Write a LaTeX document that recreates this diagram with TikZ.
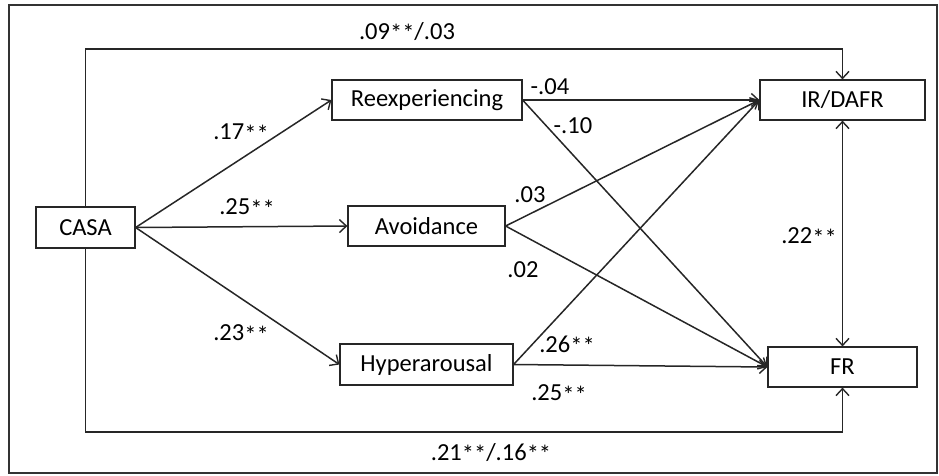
\documentclass[tikz,border=0pt]{standalone}
\usepackage{fontspec}
\setmainfont{Carlito}
\usetikzlibrary{arrows.meta}
\newcommand\sst{\raisebox{-2.5pt}{**}}
\begin{document}
\begin{tikzpicture}[x=1pt,y=-1pt,
  box/.style={draw=black!85,line width=1.2pt,inner sep=0pt,font=\fontsize{24.5}{28}\selectfont},
  lab/.style={inner sep=0pt,font=\fontsize{24.5}{28}\selectfont},
  conn/.style={draw=black!85,line width=1.5pt,-{Straight Barb[length=7pt,width=13pt,line width=1.4pt]}},
  dconn/.style={draw=black!85,line width=1.5pt,{Straight Barb[length=7pt,width=13pt,line width=1.4pt]}-{Straight Barb[length=7pt,width=13pt,line width=1.4pt]}}]
\useasboundingbox (0,0) rectangle (939,475);
\draw[black!80,line width=1.2pt] (9,5) rectangle (937,473);
\node[box,minimum width=99pt,minimum height=41pt] (casa) at (85.5,227.5) {CASA};
\node[box,minimum width=190pt,minimum height=40pt] (reex) at (427,100) {Reexperiencing};
\node[box,minimum width=157pt,minimum height=40pt] (avoid) at (426.5,226) {Avoidance};
\node[box,minimum width=173pt,minimum height=41pt] (hyper) at (426.5,364.5) {Hyperarousal};
\node[box,minimum width=165pt,minimum height=40pt] (ir) at (842.5,100) {IR/DAFR};
\node[box,minimum width=149pt,minimum height=40pt] (fr) at (842.5,367) {FR};
\coordinate (tc) at (842.5,49);
\coordinate (bc) at (842.5,432);
\draw[conn] (casa.north) |- (tc) -- (ir.north);
\draw[conn] (casa.south) |- (bc) -- (fr.south);
\draw[conn] (casa.east) -- (reex.west);
\draw[conn] (casa.east) -- (avoid.west);
\draw[conn] (casa.east) -- (hyper.west);
\draw[conn] (reex.east) -- (ir.west);
\draw[conn] (reex.east) -- (fr.west);
\draw[conn] (avoid.east) -- (ir.west);
\draw[conn] (avoid.east) -- (fr.west);
\draw[conn] (hyper.east) -- (ir.west);
\draw[conn] (hyper.east) -- (fr.west);
\draw[dconn] (ir.south) -- (fr.south |- fr.north);
\node[lab] (l1) at (407,32) {.09\sst/.03};
\node[lab] (l2) at (241,133) {.17\sst};
\node[lab] (l3) at (247,208) {.25\sst};
\node[lab] (l4) at (241,334) {.23\sst};
\node[lab] (l5) at (550,87) {-.04};
\node[lab] (l6) at (573,126) {-.10};
\node[lab] (l7) at (530,195) {.03};
\node[lab] (l8) at (523,270) {.02};
\node[lab] (l9) at (567,345) {.26\sst};
\node[lab] (l10) at (559,394) {.25\sst};
\node[lab] (l11) at (809,237) {.22\sst};
\node[lab] (l12) at (491,453) {.21\sst/.16\sst};
\end{tikzpicture}
\end{document}
